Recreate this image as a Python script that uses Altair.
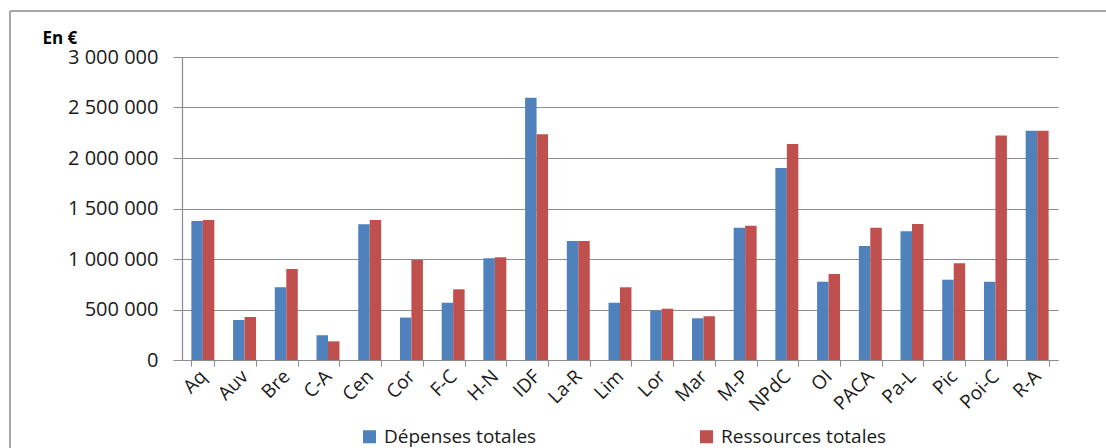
import altair as alt
import pandas as pd

# Regional totals, in euros
regions = ["Aq", "Auv", "Bre", "C-A", "Cen", "Cor", "F-C", "H-N", "IDF", "La-R", "Lim",
           "Lor", "Mar", "M-P", "NPdC", "OI", "PACA", "Pa-L", "Pic", "Poi-C", "R-A"]
depenses = [1376000, 396000, 720000, 245000, 1343000, 420000, 567000, 1007000, 2597000, 1178000,
            567000, 488000, 413000, 1310000, 1900000, 775000, 1129000, 1274000, 795000, 775000, 2270000]
ressources = [1386000, 426000, 900000, 185000, 1386000, 990000, 700000, 1017000, 2234000, 1178000,
              720000, 508000, 433000, 1330000, 2139000, 851000, 1310000, 1347000, 957000, 2224000, 2270000]
series = ["Dépenses totales", "Ressources totales"]
colors = ["#4F81BD", "#C0504D"]
y_ticks = [0, 500000, 1000000, 1500000, 2000000, 2500000, 3000000]

rows = []
for i, r in enumerate(regions):
    rows.append({"region": r, "serie": series[0], "valeur": depenses[i]})
    rows.append({"region": r, "serie": series[1], "valeur": ressources[i]})
df = pd.DataFrame(rows)

FONT = "Open Sans"
GRID = "#8c8c8c"

bars = alt.Chart(df).mark_bar().encode(
    x=alt.X(
        "region:N",
        sort=regions,
        title=None,
        scale=alt.Scale(paddingInner=0.45, paddingOuter=0.225),
        axis=alt.Axis(
            tickBand="extent",
            tickSize=6,
            tickColor=GRID,
            domainColor=GRID,
            domainWidth=1.2,
            labelAngle=-45,
            labelAlign="right",
            labelBaseline="middle",
            labelPadding=7,
            labelFont=FONT,
            labelFontSize=19,
            labelColor="#1a1a1a",
            grid=False,
        ),
    ),
    xOffset=alt.XOffset("serie:N", sort=series),
    y=alt.Y(
        "valeur:Q",
        scale=alt.Scale(domain=[0, 3000000], nice=False),
        title="En €",
        axis=alt.Axis(
            values=y_ticks,
            labelExpr="replace(format(datum.value, ','), /,/g, ' ')",
            labelFont=FONT,
            labelFontSize=20,
            labelColor="#1a1a1a",
            labelPadding=15,
            tickSize=9,
            tickColor=GRID,
            domainColor=GRID,
            domainWidth=1.2,
            gridColor=GRID,
            gridWidth=1.2,
            titleAngle=0,
            titleX=-140,
            titleY=-14,
            titleAlign="left",
            titleBaseline="alphabetic",
            titleFont=FONT,
            titleFontSize=17,
            titleFontWeight="bold",
            titleColor="#000000",
        ),
    ),
    color=alt.Color(
        "serie:N",
        sort=series,
        scale=alt.Scale(domain=series, range=colors),
        legend=alt.Legend(
            title=None,
            orient="none",
            direction="horizontal",
            legendX=178,
            legendY=370,
            columns=2,
            columnPadding=160,
            padding=0,
            symbolType="square",
            symbolSize=169,
            symbolStrokeWidth=0,
            symbolOpacity=1,
            labelFont=FONT,
            labelFontSize=19,
            labelColor="#1a1a1a",
            labelOffset=5,
            labelLimit=400,
        ),
    ),
)

# Outer frame: top and left edges of the chart box
frame_src = alt.Data(values=[{}])
frame_top = alt.Chart(frame_src).mark_rule(color="#8a8a8a", strokeWidth=1.5).encode(
    x=alt.value(-172), x2=alt.value(930), y=alt.value(-46)
)
frame_left = alt.Chart(frame_src).mark_rule(color="#8a8a8a", strokeWidth=1.5).encode(
    x=alt.value(-172), y=alt.value(-46), y2=alt.value(400)
)

chart = alt.layer(bars, frame_top, frame_left).properties(
    width=876,
    height=303,
    autosize=alt.AutoSizeParams(type="none"),
    padding={"left": 182, "top": 57, "right": 48, "bottom": 88},
    background="white",
).configure_view(stroke=None)

chart.save("out.html", embed_options={"renderer": "svg", "actions": False})
